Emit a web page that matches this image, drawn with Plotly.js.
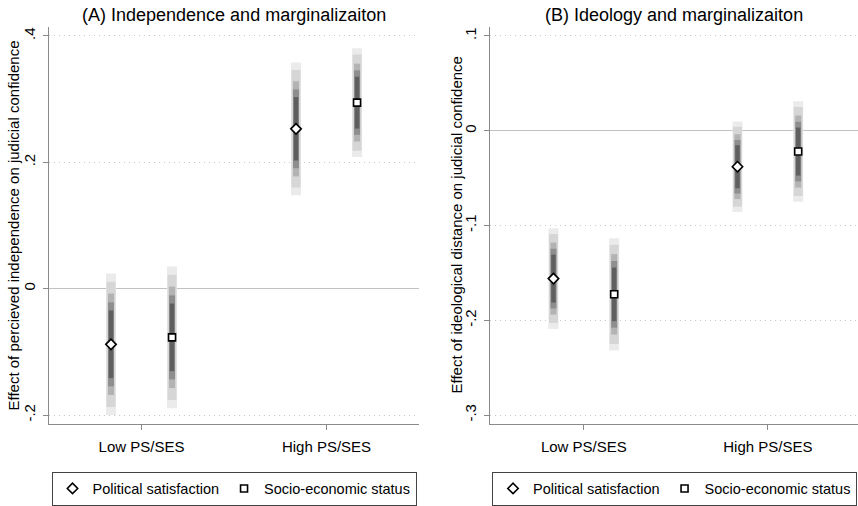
<!DOCTYPE html>
<html><head><meta charset="utf-8">
<script src="https://cdn.plot.ly/plotly-3.0.1.min.js"></script>
<style>html,body{margin:0;padding:0;background:#fff}</style>
</head><body><div id="chart" style="width:858px;height:506px"></div>
<script>
// ---- data ----
const categories = ['Low PS/SES', 'High PS/SES'];
const seriesNames = ['Political satisfaction', 'Socio-economic status'];
const yTitleA = 'Effect of percieved independence on judicial confidence';
const yTitleB = 'Effect of ideological distance on judicial confidence';
// Panel A: effect of perceived independence
const estA_PS  = [-0.088, 0.253];
const estA_SES = [-0.077, 0.2945];
const seA_PS   = [0.0435, 0.0408];
const seA_SES  = [0.0435, 0.0334];
// Panel B: effect of ideological distance
const estB_PS  = [-0.156, -0.038];
const estB_SES = [-0.1726, -0.022];
const seB_PS   = [0.0206, 0.0185];
const seB_SES  = [0.0230, 0.0206];
// confidence-level multipliers (outer to inner)
const zLevels = [2.576, 2.277, 1.845, 1.528, 1.229];
const yTicksA = [-0.2, 0, 0.2, 0.4];
const yTickTextA = ['-.2', '0', '.2', '.4'];
const yTicksB = [-0.3, -0.2, -0.1, 0, 0.1];
const yTickTextB = ['-.3', '-.2', '-.1', '0', '.1'];

// ---- styles ----
const catPos = [1, 2];
const offset = 0.165;
const bandWidths = [10, 9, 6, 6, 4.5];
const bandColors = ['#ebebeb', '#d6d6d6', '#b3b3b3', '#8e8e8e', '#5f5f5f'];
const FONT = 'Liberation Sans, Arial, sans-serif';
const axisCol = '#8a8a8a';

function bands(estPS, sePS, estSES, seSES, xa, ya) {
  const out = [];
  zLevels.forEach((z, li) => {
    const xs = [], ys = [];
    const add = (est, se, off) => {
      est.forEach((e, i) => {
        xs.push(catPos[i] + off, catPos[i] + off, null);
        ys.push(e - z * se[i], e + z * se[i], null);
      });
    };
    add(estPS, sePS, -offset);
    add(estSES, seSES, offset);
    out.push({type: 'scatter', mode: 'lines', x: xs, y: ys, xaxis: xa, yaxis: ya,
      line: {color: bandColors[li], width: bandWidths[li]}, showlegend: false,
      hoverinfo: 'skip', connectgaps: false});
  });
  return out;
}
function markers(estPS, estSES, xa, ya, leg) {
  return [
    {type: 'scatter', mode: 'markers', name: seriesNames[0], x: catPos.map(c => c - offset), y: estPS,
      xaxis: xa, yaxis: ya, legend: leg,
      marker: {symbol: 'diamond', size: 8, color: '#fff', line: {color: '#000', width: 1.6}}},
    {type: 'scatter', mode: 'markers', name: seriesNames[1], x: catPos.map(c => c + offset), y: estSES,
      xaxis: xa, yaxis: ya, legend: leg,
      marker: {symbol: 'square', size: 7, color: '#fff', line: {color: '#000', width: 1.6}}}
  ];
}

const traces = [].concat(
  bands(estA_PS, seA_PS, estA_SES, seA_SES, 'x', 'y'),
  markers(estA_PS, estA_SES, 'x', 'y', 'legend'),
  bands(estB_PS, seB_PS, estB_SES, seB_SES, 'x2', 'y2'),
  markers(estB_PS, estB_SES, 'x2', 'y2', 'legend2')
);

const xBase = {tickvals: catPos, ticktext: categories, ticks: 'outside', ticklen: 5, tickcolor: axisCol,
  showline: true, linecolor: axisCol, linewidth: 1, showgrid: false, zeroline: false,
  ticklabelstandoff: 4, tickfont: {size: 15, color: '#000'}};
const yBase = {ticks: 'outside', ticklen: 5, tickcolor: axisCol, tickangle: -90,
  showline: true, linecolor: axisCol, linewidth: 1, showgrid: true, gridcolor: '#c8c8c8', griddash: '1px,4px',
  gridwidth: 1, zeroline: true, zerolinecolor: '#c2c2c2', zerolinewidth: 1.2,
  ticklabelstandoff: 2, tickfont: {size: 15, color: '#000'}};
const legBase = {orientation: 'h', xanchor: 'center', yanchor: 'top', y: -0.1197,
  bordercolor: '#444', borderwidth: 1, font: {size: 14.5, color: '#000'}, bgcolor: '#fff'};

const layout = {
  width: 858, height: 506,
  margin: {l: 49, r: 0, t: 27, b: 78},
  paper_bgcolor: '#fff', plot_bgcolor: '#fff',
  font: {family: FONT, color: '#000'},
  xaxis: Object.assign({}, xBase, {domain: [0, 0.4574], range: [0.5, 2.5], anchor: 'y'}),
  yaxis: Object.assign({}, yBase, {range: [-0.2141, 0.4141], tickvals: yTicksA, ticktext: yTickTextA, anchor: 'x'}),
  xaxis2: Object.assign({}, xBase, {domain: [0.5451, 1], range: [0.49, 2.49], anchor: 'y2'}),
  yaxis2: Object.assign({}, yBase, {range: [-0.3094, 0.1094], tickvals: yTicksB, ticktext: yTickTextB, anchor: 'x2'}),
  legend: Object.assign({}, legBase, {x: 0.2287}),
  legend2: Object.assign({}, legBase, {x: 0.7732}),
  annotations: [
    {text: '(A) Independence and marginalizaiton', xref: 'x domain', x: 0.5, yref: 'paper', y: 1.03,
      yanchor: 'middle', showarrow: false, font: {size: 18, color: '#000'}},
    {text: '(B) Ideology and marginalizaiton', xref: 'x2 domain', x: 0.5, yref: 'paper', y: 1.03,
      yanchor: 'middle', showarrow: false, font: {size: 18, color: '#000'}},
    {text: yTitleA, textangle: -90, xref: 'paper', x: -0.0433, xanchor: 'center', yref: 'paper', y: 0.5,
      yanchor: 'middle', showarrow: false, font: {size: 15, color: '#000'}},
    {text: yTitleB, textangle: -90, xref: 'paper', x: 0.5031, xanchor: 'center', yref: 'paper', y: 0.5,
      yanchor: 'middle', showarrow: false, font: {size: 15, color: '#000'}}
  ]
};
Plotly.newPlot('chart', traces, layout, {displayModeBar: false, staticPlot: true});
</script></body></html>
